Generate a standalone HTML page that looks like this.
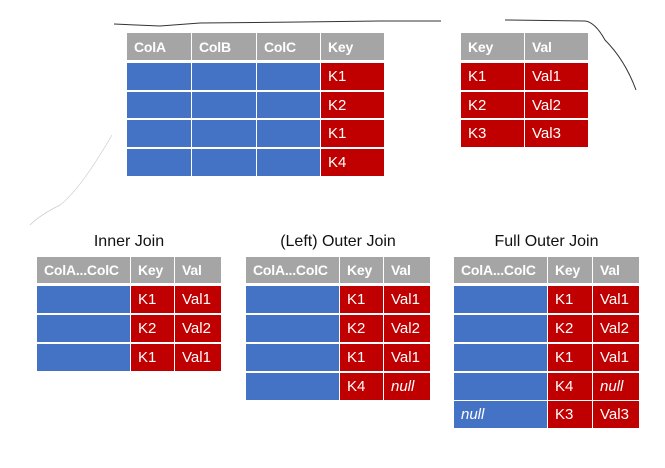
<!DOCTYPE html>
<html><head><meta charset="utf-8"><style>
body{margin:0;width:665px;height:468px;background:#fff;position:relative;overflow:hidden;font-family:"Liberation Sans",sans-serif}
.c{position:absolute;box-sizing:border-box;color:#fff;font-size:15px;line-height:1;display:flex;align-items:center;padding-left:7px;white-space:nowrap}
.h{background:#a5a5a5;font-weight:bold;font-size:14px;letter-spacing:-0.2px}
.b{background:#4472c4}
.r{background:#c00000}
.i{font-style:italic}
.t{position:absolute;font-size:16px;color:#111;text-align:center}
</style></head><body>
<svg width="665" height="468" style="position:absolute;left:0;top:0">
<path d="M114 24 L160 26 L200 23 L300 22 L380 21 L441 21" stroke="#333" stroke-width="1" fill="none"/>
<path d="M505 20 L585 21 Q595 22 605 40 Q625 60 636 90" stroke="#333" stroke-width="1" fill="none"/>
<path d="M112 135 Q80 190 60 205 Q40 215 30 225" stroke="#ccc" stroke-width="0.7" fill="none"/>
</svg>
<div id="root"></div>
<div class="t" style="left:37px;top:233px;width:184px">Inner Join</div>
<div class="t" style="left:246px;top:233px;width:184px">(Left) Outer Join</div>
<div class="t" style="left:454px;top:233px;width:185px">Full Outer Join</div>
<script>
var root=document.getElementById('root');
function cell(x,y,w,h,cls,txt){var d=document.createElement('div');d.className='c '+cls;d.style.left=x+'px';d.style.top=y+'px';d.style.width=w+'px';d.style.height=h+'px';d.textContent=txt||'';root.appendChild(d);}
function table(xs,hy,rows,data){
  for(var r=0;r<data.length;r++){
    var y=rows[r][0],h=rows[r][1]-rows[r][0];
    for(var c=0;c<data[r].length;c++){
      var d=data[r][c];
      cell(xs[c]+(c?1:0),y,xs[c+1]-xs[c]-(c?1:0),h,d[0],d[1]);
    }
  }
}
var topRows=[[33,60],[63,90],[92,118],[120,147],[149,176]];
var H='h',B='b',R='r';
table([127,191,256,320,384],0,topRows,[
 [[H,'ColA'],[H,'ColB'],[H,'ColC'],[H,'Key']],
 [[B],[B],[B],[R,'K1']],
 [[B],[B],[B],[R,'K2']],
 [[B],[B],[B],[R,'K1']],
 [[B],[B],[B],[R,'K4']]]);
table([461,524,588],0,topRows,[
 [[H,'Key'],[H,'Val']],
 [[R,'K1'],[R,'Val1']],
 [[R,'K2'],[R,'Val2']],
 [[R,'K3'],[R,'Val3']]]);
var bRows=[[257,283],[286,313],[315,342],[344,371],[373,400],[401,428]];
var hd=[[H,'ColA...ColC'],[H,'Key'],[H,'Val']];
table([37,130,174,221],0,bRows,[hd,
 [[B],[R,'K1'],[R,'Val1']],
 [[B],[R,'K2'],[R,'Val2']],
 [[B],[R,'K1'],[R,'Val1']]]);
table([246,339,383,430],0,bRows,[hd,
 [[B],[R,'K1'],[R,'Val1']],
 [[B],[R,'K2'],[R,'Val2']],
 [[B],[R,'K1'],[R,'Val1']],
 [[B],[R,'K4'],['r i','null']]]);
table([454,547,592,639],0,bRows,[hd,
 [[B],[R,'K1'],[R,'Val1']],
 [[B],[R,'K2'],[R,'Val2']],
 [[B],[R,'K1'],[R,'Val1']],
 [[B],[R,'K4'],['r i','null']],
 [['b i','null'],[R,'K3'],[R,'Val3']]]);
</script>
</body></html>
